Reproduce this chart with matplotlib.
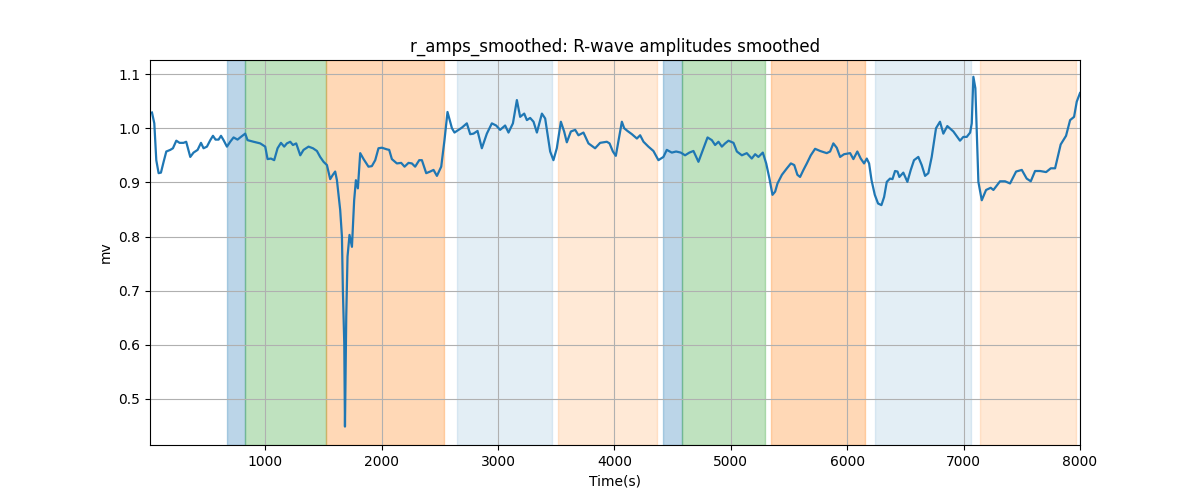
import matplotlib
matplotlib.use("Agg")
import matplotlib.pyplot as plt

# smoothed R-wave amplitude trace
time_s = [
    27, 47, 64, 84, 104, 127, 150, 184, 207, 236, 264, 298, 321, 356, 384, 419,
    448, 470, 499, 528, 551, 573, 599, 620, 642, 671, 699, 728, 762, 791, 828, 848,
    900, 957, 1000, 1020, 1049, 1077, 1106, 1135, 1163, 1186, 1215, 1238, 1266, 1301,
    1329, 1372, 1410, 1444, 1472, 1501, 1530,
    1558, 1581, 1601, 1616, 1644, 1659, 1667, 1679, 1685, 1696, 1707, 1724, 1745,
    1764, 1779, 1796,
    1816, 1845, 1887, 1916, 1945, 1973, 2002, 2045, 2065, 2088, 2131, 2168, 2197,
    2231, 2260, 2288, 2323, 2346, 2383, 2417, 2446, 2475, 2512, 2540, 2566, 2604, 2626,
    2647, 2689, 2732, 2761, 2789, 2824, 2861, 2904, 2947, 2984, 3018, 3061, 3090,
    3128, 3162, 3190, 3225, 3248, 3276, 3305, 3334, 3377, 3405, 3448, 3476, 3505,
    3540, 3568, 3591, 3626, 3663, 3691, 3734, 3777, 3834,
    3877, 3935, 3958, 3987, 4012, 4041, 4064, 4084, 4112, 4150, 4193, 4221, 4250,
    4292, 4335, 4378, 4421, 4450, 4493, 4530, 4570, 4607, 4644, 4679, 4722, 4765,
    4800, 4837, 4865, 4894, 4923, 4951, 4980, 5023, 5052, 5095, 5137, 5180, 5209,
    5237, 5275, 5304, 5332,
    5358, 5381, 5401, 5439, 5482, 5516, 5545, 5572, 5595, 5624, 5653, 5687, 5724,
    5767, 5824, 5853, 5881, 5910, 5939, 5973, 6025, 6053, 6087,
    6116, 6145, 6168, 6188, 6209, 6237, 6265, 6294, 6317, 6340, 6368, 6389, 6411,
    6432, 6448, 6482, 6517, 6546, 6574, 6611, 6640, 6669, 6697, 6726, 6763, 6797,
    6826, 6860, 6912, 6946, 6969, 6998, 7027, 7056, 7070,
    7084, 7101, 7127, 7156, 7193, 7233, 7256, 7313, 7356, 7399, 7451, 7500, 7542,
    7577, 7614, 7657, 7709, 7749, 7786, 7834, 7880, 7915, 7949, 7972, 7995, 8000,
]
r_amps = [
    1.029, 1.009, 0.941, 0.917, 0.918, 0.938, 0.957, 0.960, 0.963, 0.977, 0.973, 0.973,
    0.975, 0.947, 0.955, 0.960, 0.973, 0.963, 0.966, 0.978, 0.986, 0.979, 0.979, 0.986,
    0.978, 0.966, 0.975, 0.983, 0.979, 0.984, 0.990, 0.978, 0.975, 0.972, 0.966, 0.943,
    0.944, 0.941, 0.963, 0.973, 0.966, 0.972, 0.975, 0.969, 0.972, 0.950, 0.960, 0.966,
    0.963, 0.958, 0.947, 0.938, 0.932,
    0.906, 0.914, 0.920, 0.904, 0.849, 0.800, 0.701, 0.603, 0.449, 0.652, 0.763, 0.803,
    0.781, 0.867, 0.904, 0.889,
    0.954, 0.943, 0.929, 0.930, 0.941, 0.963, 0.964, 0.961, 0.960, 0.943, 0.935, 0.936,
    0.929, 0.936, 0.935, 0.929, 0.941, 0.941, 0.917, 0.920, 0.923, 0.912, 0.929, 0.978,
    1.030, 1.000, 0.992,
    0.995, 1.001, 1.009, 0.989, 0.990, 0.995, 0.963, 0.990, 1.009, 1.005, 0.997, 1.005,
    0.992, 1.009, 1.052, 1.021, 1.027, 1.015, 1.019, 1.012, 0.992, 1.027, 1.018, 0.957,
    0.941, 0.963, 1.012, 0.994, 0.974, 0.994, 0.997, 0.987, 0.992, 0.972, 0.963,
    0.973, 0.975, 0.972, 0.957, 0.949, 0.984, 1.012, 1.000, 0.995, 0.989, 0.981, 0.987,
    0.975, 0.966, 0.958, 0.941, 0.947, 0.960, 0.955, 0.957, 0.955, 0.950, 0.955, 0.958,
    0.938, 0.963, 0.983, 0.978, 0.969, 0.975, 0.966, 0.972, 0.977, 0.973, 0.957, 0.950,
    0.954, 0.944, 0.952, 0.947, 0.955, 0.935, 0.907,
    0.877, 0.883, 0.898, 0.914, 0.926, 0.935, 0.932, 0.914, 0.910, 0.923, 0.935, 0.950,
    0.962, 0.958, 0.954, 0.957, 0.972, 0.964, 0.947, 0.952, 0.954, 0.943, 0.957,
    0.944, 0.935, 0.944, 0.935, 0.904, 0.877, 0.861, 0.858, 0.873, 0.901, 0.907, 0.906,
    0.921, 0.920, 0.910, 0.918, 0.901, 0.923, 0.941, 0.947, 0.932, 0.912, 0.917, 0.947,
    1.000, 1.012, 0.990, 1.004, 0.994, 0.984, 0.977, 0.984, 0.984, 0.992, 1.009,
    1.095, 1.074, 0.901, 0.867, 0.886, 0.890, 0.886, 0.902, 0.902, 0.898, 0.920, 0.923,
    0.907, 0.902, 0.921, 0.921, 0.919, 0.926, 0.926, 0.970, 0.986, 1.015, 1.021, 1.049,
    1.062, 1.065,
]

# shaded segments: (start, end, colour, alpha)
seg_start = [668, 826, 1518, 2647, 3514, 4416, 4584, 5344, 6237, 7141]
seg_end = [826, 1518, 2537, 3463, 4370, 4584, 5295, 6151, 7061, 7963]
seg_color = ["tab:blue", "tab:green", "tab:orange", "tab:blue", "tab:orange",
             "tab:blue", "tab:green", "tab:orange", "tab:blue", "tab:orange"]
seg_alpha = [0.3, 0.3, 0.3, 0.12, 0.17, 0.3, 0.3, 0.3, 0.12, 0.17]

fig, ax = plt.subplots(figsize=(12, 5), dpi=100)

for s, e, c, a in zip(seg_start, seg_end, seg_color, seg_alpha):
    ax.axvspan(s, e, color=c, alpha=a)

ax.plot(time_s, r_amps, color="tab:blue", linewidth=1.6)

ax.set_xlim(10, 8000)
ax.set_ylim(0.415, 1.126)
ax.grid(True)
ax.set_title("r_amps_smoothed: R-wave amplitudes smoothed")
ax.set_xlabel("Time(s)")
ax.set_ylabel("mv")

plt.savefig("out.png")
